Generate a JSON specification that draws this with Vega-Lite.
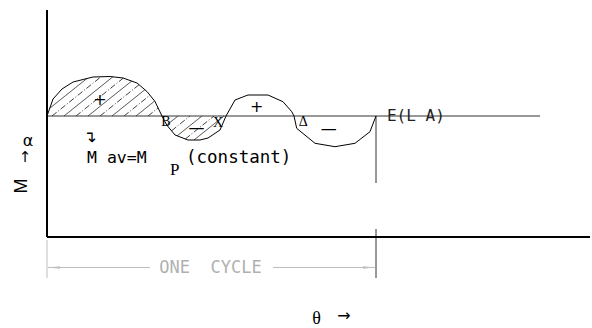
{
  "$schema": "https://vega.github.io/schema/vega-lite/v6.json",
  "width": 592,
  "height": 328,
  "autosize": "none",
  "padding": 0,
  "background": "white",
  "config": {"view": {"stroke": null}},
  "datasets": {
    "curve": [
      {"theta": 0, "M": 0}, {"theta": 6.6, "M": 17}, {"theta": 16.4, "M": 27}, {"theta": 28.5, "M": 34},
      {"theta": 50.3, "M": 39}, {"theta": 68.9, "M": 39.5}, {"theta": 83.2, "M": 38}, {"theta": 98.5, "M": 33},
      {"theta": 109.4, "M": 24.5}, {"theta": 118.2, "M": 14.5}, {"theta": 123.7, "M": 4}, {"theta": 125.8, "M": 0},
      {"theta": 131.0, "M": -9}, {"theta": 140.1, "M": -19}, {"theta": 154.3, "M": -24}, {"theta": 167.4, "M": -24},
      {"theta": 176.2, "M": -22}, {"theta": 189.3, "M": -14}, {"theta": 195.9, "M": 0}, {"theta": 205.7, "M": 16},
      {"theta": 219.9, "M": 21}, {"theta": 241.8, "M": 21}, {"theta": 258.2, "M": 14.3}, {"theta": 267.8, "M": 4.3},
      {"theta": 270.3, "M": 0}, {"theta": 273.2, "M": -12.3}, {"theta": 293.3, "M": -27.3}, {"theta": 315.1, "M": -30.7},
      {"theta": 337.0, "M": -27.3}, {"theta": 353.4, "M": -15.7}, {"theta": 360, "M": 0}
    ],
    "hatch": [
      {"theta": 3.06, "M": 7.8, "theta2": 43.55, "M2": 37.4, "pattern": "solid"},
      {"theta": 5.47, "M": 0, "theta2": 59.09, "M2": 39.2, "pattern": "dashdot"},
      {"theta": 18.6, "M": 0, "theta2": 72.11, "M2": 39.2, "pattern": "solid"},
      {"theta": 31.73, "M": 0, "theta2": 83.49, "M2": 37.9, "pattern": "dashdot"},
      {"theta": 44.86, "M": 0, "theta2": 92.57, "M2": 34.9, "pattern": "solid"},
      {"theta": 57.99, "M": 0, "theta2": 100.78, "M2": 31.3, "pattern": "dashdot"},
      {"theta": 71.12, "M": 0, "theta2": 107.13, "M2": 26.3, "pattern": "solid"},
      {"theta": 84.25, "M": 0, "theta2": 112.7, "M2": 20.8, "pattern": "dashdot"},
      {"theta": 97.39, "M": 0, "theta2": 117.85, "M2": 15.0, "pattern": "solid"},
      {"theta": 110.52, "M": 0, "theta2": 121.57, "M2": 8.1, "pattern": "dashdot"},
      {"theta": 130.98, "M": -9, "theta2": 143.34, "M2": 0, "pattern": "solid"},
      {"theta": 136.23, "M": -14.8, "theta2": 156.47, "M2": 0, "pattern": "dashdot"},
      {"theta": 142.47, "M": -19.8, "theta2": 169.6, "M2": 0, "pattern": "solid"},
      {"theta": 151.33, "M": -23.0, "theta2": 182.73, "M2": 0, "pattern": "dashdot"},
      {"theta": 160.85, "M": -24, "theta2": 193.68, "M2": 0, "pattern": "solid"}
    ],
    "frame": [
      {"theta": 0, "M": 106, "theta2": 0, "M2": -121, "part": "yaxis"},
      {"theta": 0, "M": -121, "theta2": 594.2, "M2": -121, "part": "xaxis"}
    ],
    "thin": [
      {"theta": 0, "M": 0, "theta2": 539.5, "M2": 0, "part": "mean"},
      {"theta": 360, "M": 0, "theta2": 360, "M2": -67, "part": "cycle end"},
      {"theta": 360, "M": -113, "theta2": 360, "M2": -162, "part": "extension right"}
    ],
    "dim": [
      {"theta": 0, "M": -124, "theta2": 0, "M2": -162, "part": "extension left"},
      {"theta": 1.1, "M": -151.5, "theta2": 112.7, "M2": -151.5, "part": "dim left"},
      {"theta": 247.3, "M": -151.5, "theta2": 358.9, "M2": -151.5, "part": "dim right"}
    ],
    "arrowL": [{"theta": 7.66, "M": -151.5}],
    "arrowR": [{"theta": 352.3, "M": -151.5}]
  },
  "encoding": {
    "x": {"field": "theta", "type": "quantitative", "scale": {"domain": [-51.43, 596.35], "nice": false, "zero": false}, "axis": null},
    "y": {"field": "M", "type": "quantitative", "scale": {"domain": [-212, 116], "nice": false, "zero": false}, "axis": null}
  },
  "layer": [
    {
      "data": {"name": "hatch"},
      "mark": {"type": "rule", "color": "#111", "strokeWidth": 0.8},
      "encoding": {
        "x2": {"field": "theta2"}, "y2": {"field": "M2"},
        "strokeDash": {"field": "pattern", "type": "nominal", "scale": {"domain": ["solid", "dashdot"], "range": [[1, 0], [6, 2, 1, 2]]}, "legend": null}
      }
    },
    {
      "data": {"name": "thin"},
      "mark": {"type": "rule", "color": "#333", "strokeWidth": 1},
      "encoding": {"x2": {"field": "theta2"}, "y2": {"field": "M2"}}
    },
    {
      "data": {"name": "frame"},
      "mark": {"type": "rule", "color": "#000", "strokeWidth": 2},
      "encoding": {"x2": {"field": "theta2"}, "y2": {"field": "M2"}}
    },
    {
      "data": {"name": "dim"},
      "mark": {"type": "rule", "color": "#bdbdbd", "strokeWidth": 1},
      "encoding": {"x2": {"field": "theta2"}, "y2": {"field": "M2"}}
    },
    {
      "data": {"name": "arrowL"},
      "mark": {"type": "point", "filled": true, "color": "#bdbdbd", "opacity": 1, "size": 144, "shape": "M-1,0L1,-0.22L1,0.22Z"}
    },
    {
      "data": {"name": "arrowR"},
      "mark": {"type": "point", "filled": true, "color": "#bdbdbd", "opacity": 1, "size": 144, "shape": "M1,0L-1,-0.22L-1,0.22Z"}
    },
    {
      "data": {"name": "curve"},
      "mark": {"type": "line", "color": "#000", "strokeWidth": 1},
      "encoding": {"order": {"field": "theta", "type": "quantitative"}}
    },
    {
      "data": {"values": [{"theta": 43.8, "M": -47, "label": "M av=M"}]},
      "mark": {"type": "text", "font": "DejaVu Sans Mono", "fontSize": 16.5, "align": "left", "baseline": "alphabetic", "color": "#000"},
      "encoding": {"text": {"field": "label"}}
    },
    {
      "data": {"values": [{"theta": 152.1, "M": -47, "label": "(constant)"}]},
      "mark": {"type": "text", "font": "DejaVu Sans Mono", "fontSize": 17.5, "align": "left", "baseline": "alphabetic", "color": "#000"},
      "encoding": {"text": {"field": "label"}}
    },
    {
      "data": {"values": [{"theta": 134.6, "M": -59, "label": "P"}]},
      "mark": {"type": "text", "font": "Liberation Serif", "fontSize": 17, "align": "left", "baseline": "alphabetic", "color": "#000"},
      "encoding": {"text": {"field": "label"}}
    },
    {
      "data": {"values": [{"theta": 372.0, "M": 0, "label": "E(L A)"}]},
      "mark": {"type": "text", "font": "DejaVu Sans Mono", "fontSize": 16, "align": "left", "baseline": "middle", "color": "#222"},
      "encoding": {"text": {"field": "label"}}
    },
    {
      "data": {"values": [{"theta": 178.9, "M": -152, "label": "ONE\u00a0\u00a0CYCLE"}]},
      "mark": {"type": "text", "font": "DejaVu Sans Mono", "fontSize": 17, "align": "center", "baseline": "middle", "color": "#b0b0b0"},
      "encoding": {"text": {"field": "label"}}
    },
    {
      "data": {"values": [{"theta": -27.4, "M": -70, "label": "M"}]},
      "mark": {"type": "text", "font": "Liberation Sans", "fontSize": 18, "angle": 270, "align": "center", "baseline": "middle", "color": "#000"},
      "encoding": {"text": {"field": "label"}}
    },
    {
      "data": {"values": [
        {"theta": -20.8, "M": -25, "label": "α"}
      ]},
      "mark": {"type": "text", "font": "DejaVu Sans", "fontSize": 16, "align": "center", "baseline": "middle", "color": "#000"},
      "encoding": {"text": {"field": "label"}}
    },
    {
      "data": {"values": [
        {"theta": -24.1, "M": -41, "label": "↑"}
      ]},
      "mark": {"type": "text", "font": "DejaVu Sans", "fontSize": 15, "align": "center", "baseline": "middle", "color": "#000"},
      "encoding": {"text": {"field": "label"}}
    },
    {
      "data": {"values": [
        {"theta": 47.05, "M": -21, "label": "↴"},
        {"theta": 57.99, "M": 16, "label": "+"},
        {"theta": 229.5, "M": 9.3, "label": "+"},
        {"theta": 163.6, "M": -12.3, "label": "—"},
        {"theta": 308.4, "M": -13.3, "label": "—"},
        {"theta": 325.0, "M": -200, "label": "→"}
      ]},
      "mark": {"type": "text", "font": "DejaVu Sans", "fontSize": 16, "align": "center", "baseline": "middle", "color": "#000"},
      "encoding": {"text": {"field": "label"}}
    },
    {
      "data": {"values": [
        {"theta": 130.2, "M": -5.7, "label": "B"},
        {"theta": 187.1, "M": -6.5, "label": "X"},
        {"theta": 280.5, "M": -6.2, "label": "Δ"}
      ]},
      "mark": {"type": "text", "font": "Liberation Serif", "fontSize": 14, "align": "center", "baseline": "middle", "color": "#000"},
      "encoding": {"text": {"field": "label"}}
    },
    {
      "data": {"values": [{"theta": 294.9, "M": -203, "label": "θ"}]},
      "mark": {"type": "text", "font": "Liberation Serif", "fontSize": 18, "align": "center", "baseline": "middle", "color": "#000"},
      "encoding": {"text": {"field": "label"}}
    }
  ]
}
